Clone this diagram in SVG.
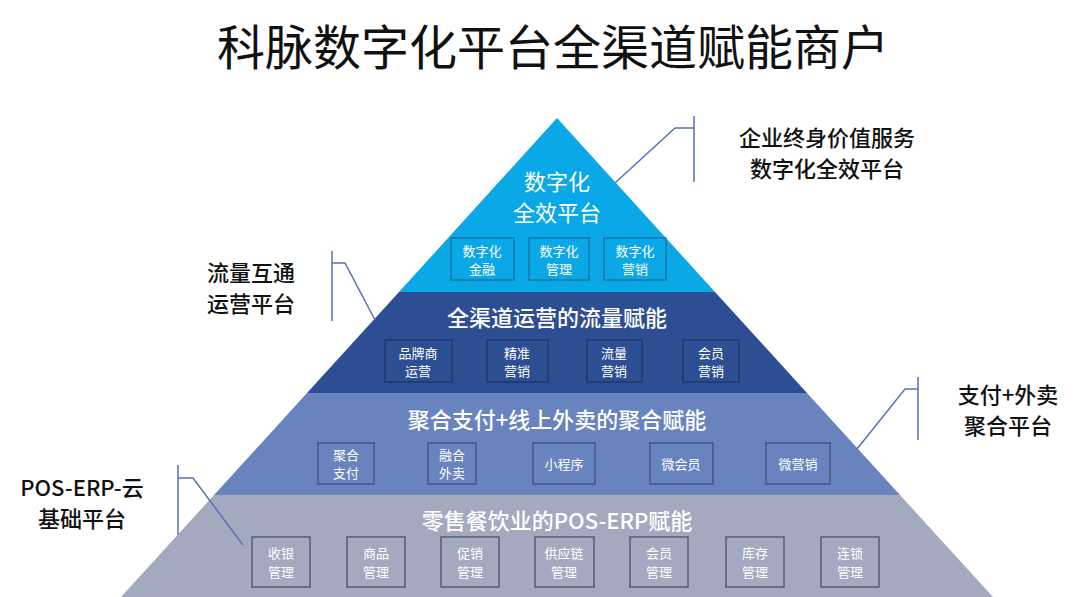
<svg xmlns="http://www.w3.org/2000/svg" width="1080" height="597" viewBox="0 0 1080 597">
<style>
text{font-family:"Noto Sans CJK SC","Liberation Sans",sans-serif;text-anchor:middle}
.w{fill:#fff}
.t{font-size:22px;font-weight:500}
.s{font-size:13px}
.k{fill:#111;font-size:22px;font-weight:500}
.b1{fill:none;stroke:#1a6fa0;stroke-width:1.3}
.b2{fill:none;stroke:#1c3566;stroke-width:1.3}
.b3{fill:none;stroke:#3c5080;stroke-width:1.3}
.b4{fill:none;stroke:#4a5168;stroke-width:1.3}
.c{fill:none;stroke:#5872b8;stroke-width:1.5}
</style>
<rect width="1080" height="597" fill="#fff"/>
<text x="553" y="65" style="font-size:48px;fill:#111">科脉数字化平台全渠道赋能商户</text>
<g id="layer1">
<polygon points="557,118 715,292 399,292" fill="#0aa8e6"/>
<text class="w" x="557" y="190" style="font-size:22px">数字化</text>
<text class="w" x="557" y="221" style="font-size:22px">全效平台</text>
<rect class="b1" x="451" y="238" width="63" height="42"/><text class="w s" x="482" y="256">数字化</text><text class="w s" x="482" y="274">金融</text>
<rect class="b1" x="529" y="238" width="60" height="42"/><text class="w s" x="559" y="256">数字化</text><text class="w s" x="559" y="274">管理</text>
<rect class="b1" x="604" y="238" width="62" height="42"/><text class="w s" x="635" y="256">数字化</text><text class="w s" x="635" y="274">营销</text>
</g>
<g id="layer2">
<polygon points="399,292 715,292 807,393 307,393" fill="#2d4e92"/>
<text class="w t" x="557" y="326">全渠道运营的流量赋能</text>
<rect class="b2" x="385" y="340" width="67" height="42"/><text class="w s" x="418" y="358">品牌商</text><text class="w s" x="418" y="376">运营</text>
<rect class="b2" x="487" y="340" width="61" height="42"/><text class="w s" x="517" y="358">精准</text><text class="w s" x="517" y="376">营销</text>
<rect class="b2" x="587" y="340" width="55" height="42"/><text class="w s" x="614" y="358">流量</text><text class="w s" x="614" y="376">营销</text>
<rect class="b2" x="683" y="340" width="56" height="42"/><text class="w s" x="711" y="358">会员</text><text class="w s" x="711" y="376">营销</text>
</g>
<g id="layer3">
<polygon points="307,393 807,393 900,495 214,495" fill="#6883bd"/>
<text class="w t" x="557" y="428">聚合支付+线上外卖的聚合赋能</text>
<rect class="b3" x="318" y="443" width="56" height="41"/><text class="w s" x="346" y="460">聚合</text><text class="w s" x="346" y="478">支付</text>
<rect class="b3" x="428" y="443" width="48" height="41"/><text class="w s" x="452" y="460">融合</text><text class="w s" x="452" y="478">外卖</text>
<rect class="b3" x="533" y="443" width="62" height="41"/><text class="w s" x="564" y="469">小程序</text>
<rect class="b3" x="650" y="443" width="63" height="41"/><text class="w s" x="681" y="469">微会员</text>
<rect class="b3" x="766" y="443" width="64" height="41"/><text class="w s" x="798" y="469">微营销</text>
</g>
<g id="layer4">
<polygon points="214,495 900,495 993,597 121,597" fill="#a3aabf"/>
<text class="w t" x="557" y="529">零售餐饮业的POS-ERP赋能</text>
<rect class="b4" x="252" y="537" width="58" height="50"/><text class="w s" x="281" y="558">收银</text><text class="w s" x="281" y="577">管理</text>
<rect class="b4" x="347" y="537" width="58" height="50"/><text class="w s" x="376" y="558">商品</text><text class="w s" x="376" y="577">管理</text>
<rect class="b4" x="441" y="537" width="58" height="50"/><text class="w s" x="470" y="558">促销</text><text class="w s" x="470" y="577">管理</text>
<rect class="b4" x="535" y="537" width="59" height="50"/><text class="w s" x="564" y="558">供应链</text><text class="w s" x="564" y="577">管理</text>
<rect class="b4" x="630" y="537" width="58" height="50"/><text class="w s" x="659" y="558">会员</text><text class="w s" x="659" y="577">管理</text>
<rect class="b4" x="726" y="537" width="58" height="50"/><text class="w s" x="755" y="558">库存</text><text class="w s" x="755" y="577">管理</text>
<rect class="b4" x="821" y="537" width="58" height="50"/><text class="w s" x="850" y="558">连锁</text><text class="w s" x="850" y="577">管理</text>
</g>
<g id="connectors">
<path class="c" d="M694,116V182M694,128H675L615,183"/>
<path class="c" d="M332,251V321M332,263H345L375,320"/>
<path class="c" d="M918,377V440M918,389H905L857,449"/>
<path class="c" d="M178,465V535M178,478H193L243,545"/>
</g>
<g id="labels">
<text class="k" x="827" y="146">企业终身价值服务</text>
<text class="k" x="827" y="177">数字化全效平台</text>
<text class="k" x="251" y="281">流量互通</text>
<text class="k" x="251" y="312">运营平台</text>
<text class="k" x="1008" y="403">支付+外卖</text>
<text class="k" x="1008" y="434">聚合平台</text>
<text class="k" x="82" y="496">POS-ERP-云</text>
<text class="k" x="82" y="527">基础平台</text>
</g>
</svg>
